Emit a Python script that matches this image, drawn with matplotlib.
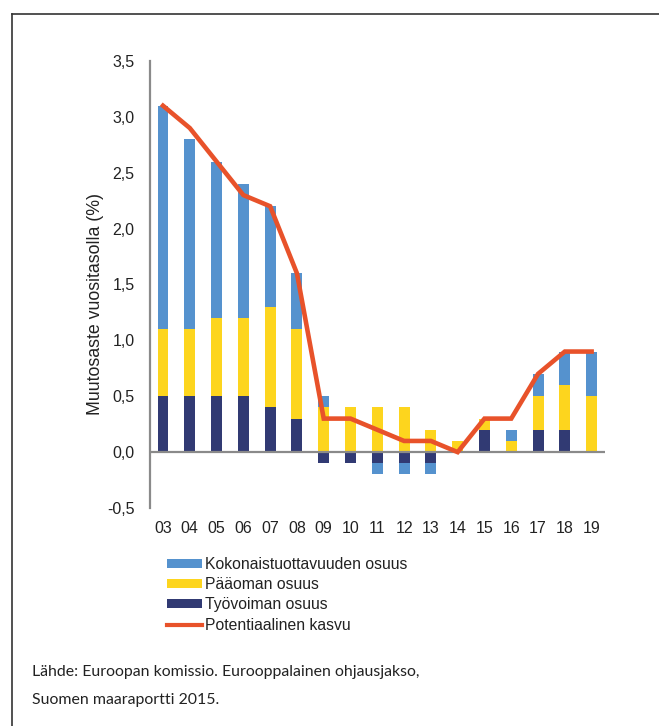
import matplotlib
matplotlib.use("Agg")
import matplotlib.pyplot as plt
from matplotlib.patches import Patch
from matplotlib.lines import Line2D
import numpy as np

years = ["03", "04", "05", "06", "07", "08", "09", "10", "11", "12", "13", "14", "15", "16", "17", "18", "19"]
tyovoima = [0.5, 0.5, 0.5, 0.5, 0.4, 0.3, -0.1, -0.1, -0.1, -0.1, -0.1, 0.0, 0.2, 0.0, 0.2, 0.2, 0.0]
paaoma = [0.6, 0.6, 0.7, 0.7, 0.9, 0.8, 0.4, 0.4, 0.4, 0.4, 0.2, 0.1, 0.1, 0.1, 0.3, 0.4, 0.5]
kokonais = [2.0, 1.7, 1.4, 1.2, 0.9, 0.5, 0.1, 0.0, -0.1, -0.1, -0.1, 0.0, 0.0, 0.1, 0.2, 0.3, 0.4]
potentiaali = [3.1, 2.9, 2.6, 2.3, 2.2, 1.6, 0.3, 0.3, 0.2, 0.1, 0.1, 0.0, 0.3, 0.3, 0.7, 0.9, 0.9]

labels = ["Kokonaistuottavuuden osuus", "Pääoman osuus", "Työvoiman osuus", "Potentiaalinen kasvu"]
yticks = [-0.5, 0.0, 0.5, 1.0, 1.5, 2.0, 2.5, 3.0, 3.5]

c_tfp = "#5592CE"
c_cap = "#FDD51E"
c_lab = "#313A73"
c_pot = "#E8522A"
c_axis = "#8A8A8A"
c_text = "#222222"

plt.rcParams["font.family"] = ["Liberation Sans", "DejaVu Sans"]

fig = plt.figure(figsize=(6.59, 7.26), dpi=100)
ax = fig.add_axes([150/659, 1-508/726, 455/659, 447/726])

x = np.arange(len(years))
w = 0.41
series = [(tyovoima, c_lab), (paaoma, c_cap), (kokonais, c_tfp)]
pos_base = np.zeros(len(years))
neg_base = np.zeros(len(years))
for vals, col in series:
    v = np.array(vals, dtype=float)
    bottoms = np.where(v >= 0, pos_base, neg_base)
    ax.bar(x, v, w, bottom=bottoms, color=col, zorder=2, linewidth=0)
    pos_base = pos_base + np.where(v > 0, v, 0)
    neg_base = neg_base + np.where(v < 0, v, 0)

ax.axhline(0, color=c_axis, lw=1.6, zorder=3)
ax.plot(x, potentiaali, color=c_pot, lw=3.3, zorder=4, solid_joinstyle="miter")

ax.set_xlim(-0.485, 16.5)
ax.set_ylim(-0.5, 3.5)
ax.set_yticks(yticks)
ax.set_yticklabels([f"{t:.1f}".replace(".", ",") for t in yticks])
ax.set_xticks(x)
ax.set_xticklabels(years)
for s in ["top", "right", "bottom"]:
    ax.spines[s].set_visible(False)
ax.spines["left"].set_color(c_axis)
ax.spines["left"].set_linewidth(1.6)
ax.tick_params(axis="both", length=0, labelsize=11.5, colors=c_text)
ax.tick_params(axis="y", pad=11)
ax.tick_params(axis="x", pad=9.5)
ax.set_ylabel("Muutosaste vuositasolla (%)", fontsize=12.8, color=c_text)
ax.yaxis.set_label_coords(-0.1, (508-304)/447)

handles = [Patch(color=c_tfp, lw=0), Patch(color=c_cap, lw=0), Patch(color=c_lab, lw=0),
           Line2D([0], [0], color=c_pot, lw=3)]
fig.legend(handles, labels, loc="upper left", bbox_to_anchor=(167/659, 1-557/726),
           frameon=False, prop=dict(family="Liberation Sans", size=11.3),
           handlelength=2.2, handleheight=0.5, handletextpad=0.25, labelspacing=0.33,
           borderpad=0, borderaxespad=0, labelcolor=c_text)

fig.text(32/659, 1-672/726, "Lähde: Euroopan komissio. Eurooppalainen ohjausjakso,",
         fontsize=11.4, family=["Lato", "DejaVu Sans"], color=c_text, va="center")
fig.text(32/659, 1-700/726, "Suomen maaraportti 2015.",
         fontsize=11.4, family=["Lato", "DejaVu Sans"], color=c_text, va="center")

fig.add_artist(Line2D([12/659, 12/659], [0, 1-14/726], color="#333333", lw=1.2))
fig.add_artist(Line2D([12/659, 1], [1-14/726, 1-14/726], color="#333333", lw=1.2))

fig.savefig("out.png", dpi=100)
